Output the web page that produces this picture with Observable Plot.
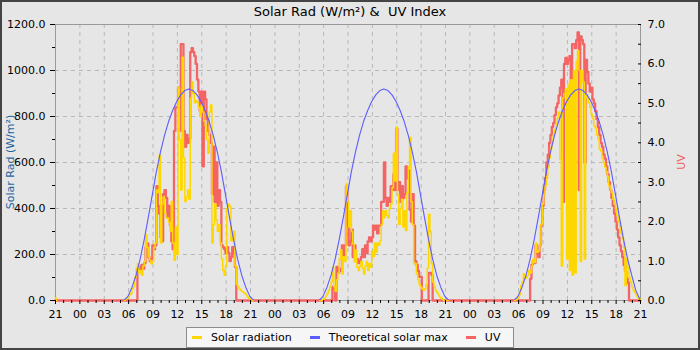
<!DOCTYPE html>
<html><head><meta charset="utf-8">
<script src="https://cdn.jsdelivr.net/npm/d3@7"></script>
<script src="https://cdn.jsdelivr.net/npm/@observablehq/plot@0.6"></script>
<style>
body{margin:0;background:#fff;}
#chart{position:relative;width:700px;height:350px;background:#e6e6e6;font-family:"DejaVu Sans",sans-serif;overflow:hidden;}
#chart svg{position:absolute;left:0;top:0;}
#border{position:absolute;left:0;top:0;width:700px;height:350px;box-sizing:border-box;border:2px solid #444;pointer-events:none;}
#title{position:absolute;left:0;width:700px;top:4px;text-align:center;font-size:13px;line-height:15px;color:#000;white-space:pre;}
.ylab{position:absolute;font-size:11px;line-height:13px;white-space:nowrap;transform:translate(-50%,-50%) rotate(-90deg);}
#legend{position:absolute;left:186px;top:327px;width:328px;height:21px;box-sizing:border-box;border:1px solid #8c8c8c;background:#f6f6f6;display:flex;align-items:center;padding-left:5px;font-size:11px;line-height:19px;color:#000;}
#legend .item{display:flex;align-items:center;margin-right:18px;white-space:nowrap;}
#legend .sw{display:inline-block;width:10px;height:2.5px;margin-right:9px;}
</style></head>
<body>
<div id="chart">
  <div id="title"></div>
  <div class="ylab" id="ylabL" style="left:10px;top:162px;color:#1e64a0"></div>
  <div class="ylab" id="ylabR" style="left:681px;top:162px;color:#f06060"></div>
  <div id="legend"></div>
  <div id="border"></div>
</div>
<script>
// ---- data ----
const titleText = "Solar Rad (W/m\u00b2) &  UV Index";
const leftAxisLabel = "Solar Rad (W/m\u00b2)";
const rightAxisLabel = "UV";
const seriesNames = ["Solar radiation", "Theoretical solar max", "UV"];
const hourLabels = ["21","00","03","06","09","12","15","18","21","00","03","06","09","12","15","18","21","00","03","06","09","12","15","18","21"];

// hours from chart start (21:00) to midnight of each day
const dayMidnights = [3, 27, 51];
// measured series: 10-minute values starting 05:30
const measStartHour = 5.5;
const measStepMin = 10;
// theoretical max: 30-minute values starting 05:25
const maxStartHour = 5 + 25 / 60;
const maxStepMin = 30;
// previous evening solar (21:00, 21:10)
const solarEve = [12, 0];

const solarDay1 = [
  0,5,10,
  15,25,30,50,60,100,
  140,160,120,130,110,150,
  170,285,230,190,175,160,
  170,230,250,480,470,630,
  250,420,450,380,360,360,
  340,300,430,250,175,320,
  200,926,700,480,1058,620,
  430,450,480,440,880,950,
  900,860,870,860,840,800,
  850,820,780,760,700,640,
  820,850,250,330,420,350,
  300,330,250,180,130,110,
  150,400,420,410,260,280,
  300,150,70,60,50,45,
  40,35,30,25,15,10,
  5,2,0];
const uvDay1 = [
  0,0,0,
  0,0,0,0,0,0,
  0,0.8,0.85,0.75,0.9,0.8,
  0.95,1.35,1.45,1.1,1.0,1.05,
  1.4,1.3,1.4,2.9,2.4,2.2,
  1.6,1.5,2.7,2.8,2.6,2.1,
  2.4,1.9,1.5,1.3,4.3,4.9,
  4.9,5.4,4.3,6.5,6.5,4.3,
  3.9,4.2,4.0,4.1,6.3,6.4,
  6.3,6.2,6.0,5.6,5.3,4.8,
  5.3,3.4,5.3,5.1,4.6,4.3,
  4.2,4.0,2.7,3.9,2.5,3.5,
  2.4,2.8,2.5,1.4,1.35,1.3,
  1.2,1.35,1.2,1.0,1.1,1.35,
  1.2,0.85,0,0,0,0,
  0,0,0,0,0,0,
  0,0,0];
const solarDay2 = [
  0,0,0,
  5,10,20,30,45,60,
  80,145,60,40,90,120,
  180,220,115,190,170,507,
  430,320,390,300,246,170,
  220,145,130,150,170,140,
  115,150,170,130,160,145,
  215,190,250,210,250,240,
  260,330,390,360,390,370,
  360,400,420,490,640,520,
  754,460,330,400,440,320,
  390,304,470,580,710,430,
  330,160,160,115,90,70,
  60,50,45,50,70,140,
  375,300,160,80,60,45,
  35,25,15,10,5,0,
  0,0,0];
const uvDay2 = [
  0,0,0,
  0,0,0,0,0,0,
  0,0.35,0.3,0,0.85,0.7,
  0.75,0.8,1.4,1.1,1.4,2.9,
  1.9,1.4,1.5,1.8,1.1,1.4,
  1.0,1.05,0.95,1.0,1.1,1.3,
  1.1,1.4,1.2,1.5,1.6,1.5,
  1.6,1.9,1.8,1.9,1.7,1.9,
  1.9,2.5,2.5,3.5,2.6,2.4,
  2.6,2.5,2.9,2.8,3.2,2.8,
  4.35,2.8,3.0,2.5,2.9,2.6,
  2.7,3.4,3.1,3.3,2.3,2.0,
  2.7,1.9,1.0,0.9,0.75,0.6,
  0.6,0,0,0,0,0,
  0.7,0.7,0.65,0,0,0,
  0,0,0,0,0,0,
  0,0,0];
const solarDay3 = [
  0,3,8,
  15,25,65,80,116,95,
  100,110,130,120,150,180,
  165,250,210,215,240,330,
  420,460,500,540,580,620,
  660,690,720,745,770,795,
  820,615,150,880,900,920,
  180,940,130,960,110,1000,
  120,1040,1087,1000,170,1000,
  950,180,900,880,860,840,
  810,790,760,750,720,700,
  660,650,620,600,580,560,
  540,500,480,470,440,420,
  400,370,340,320,290,270,
  230,65,180,140,100,80,
  60,45,35,25,15,8,
  3];
const uvDay3 = [
  0,0,0,
  0,0,0,0,0,0,
  0,0,0,0.55,0.9,1.0,
  0.95,1.4,1.2,1.1,1.4,1.9,
  2.4,2.8,3.1,3.5,3.7,4.0,
  4.2,4.4,4.5,4.7,4.9,5.0,
  5.2,5.4,5.6,2.5,6.0,6.15,
  6.0,6.1,6.2,2.9,6.5,6.5,
  6.4,6.6,6.8,2.8,6.7,6.6,
  6.5,3.5,6.1,5.8,5.5,5.3,
  5.4,5.1,5.0,4.8,4.6,4.4,
  4.2,4.0,3.9,3.7,3.6,3.4,
  3.2,3.0,2.8,2.6,2.4,2.2,
  2.0,1.8,1.6,1.4,1.25,1.1,
  0.9,0.75,0.55,0.45,0,0,
  0,0,0,0,0,0,
  0];
const maxDay1 = [0,18,58,110,180,265,360,460,560,645,718,778,826,865,894,913,920,913,894,865,826,778,718,645,560,460,360,265,180,110,58,18,0];
const maxDay2 = [0,18,58,110,180,265,360,460,560,645,718,778,826,865,894,913,920,913,894,865,826,778,718,645,560,460,360,265,180,110,58,18,0];
const maxDay3 = [0,18,58,110,180,265,360,460,560,645,718,778,826,865,894,913,920,913,894,865,826,778,718,645,560,460,360,265,180,110,45,5,0];

// ---- styles ----
const solarColor = "#ffd700";
const maxColor = "#5c5cff";
const uvColor = "#f46464";
const seriesColors = [solarColor, maxColor, uvColor];

// ---- build tables ----
const UV_TO_Y = 1200 / 7;
const solarDays = [solarDay1, solarDay2, solarDay3];
const uvDays = [uvDay1, uvDay2, uvDay3];
const maxDays = [maxDay1, maxDay2, maxDay3];

const solarPts = [];
solarEve.forEach((v, i) => solarPts.push({day: 0, h: i * measStepMin / 60, v}));
solarDays.forEach((arr, d) => arr.forEach((v, i) =>
  solarPts.push({day: d + 1, h: dayMidnights[d] + measStartHour + i * measStepMin / 60, v})));

const uvPts = [{h: 0, v: 0}];
uvDays.forEach((arr, d) => arr.forEach((v, i) =>
  uvPts.push({h: dayMidnights[d] + measStartHour + i * measStepMin / 60, v: v * UV_TO_Y})));

const maxPts = [];
maxDays.forEach((arr, d) => arr.forEach((v, i) =>
  maxPts.push({day: d + 1, h: dayMidnights[d] + maxStartHour + i * maxStepMin / 60, v})));

const gridStyle = {stroke: "#b8b8b8", strokeOpacity: 1, strokeDasharray: "4,4"};

const plot = Plot.plot({
  width: 700, height: 325,
  marginTop: 24, marginBottom: 25, marginLeft: 55, marginRight: 60,
  style: {background: "transparent", fontFamily: "DejaVu Sans", fontSize: "11px", color: "#000", overflow: "visible"},
  x: {domain: [0, 72], label: null},
  y: {domain: [0, 1200], label: null},
  marks: [
    Plot.gridY(d3.range(200, 1200, 200), gridStyle),
    Plot.gridX(d3.range(3, 72, 3), gridStyle),
    Plot.frame({stroke: "#999"}),
    Plot.line(uvPts, {x: "h", y: "v", stroke: uvColor, strokeWidth: 2.3, curve: "step"}),
    Plot.line(solarPts, {x: "h", y: "v", z: "day", stroke: solarColor, strokeWidth: 1.5, curve: "step"}),
    Plot.line(maxPts, {x: "h", y: "v", z: "day", stroke: maxColor, strokeWidth: 1.1, clip: true}),
    Plot.axisX(d3.range(0, 73, 3), {tickSize: 4, tickPadding: 6, tickFormat: d => hourLabels[d / 3], label: null}),
    Plot.axisX(d3.range(0, 73, 1).filter(d => d % 3), {tickSize: 3, tickFormat: () => "", label: null}),
    Plot.axisY(d3.range(0, 1201, 200), {tickSize: 5, tickPadding: 5, tickFormat: d => d.toFixed(1), label: null}),
    Plot.axisY(d3.range(100, 1200, 200), {tickSize: 3, tickFormat: () => "", label: null}),
    Plot.axisY(d3.range(0, 7.01, 1).map(u => u * UV_TO_Y), {anchor: "right", tickSize: 0, tickPadding: 7, tickFormat: d => (d / UV_TO_Y).toFixed(1), label: null}),
    Plot.axisY(d3.range(0, 7.01, 0.5).map(u => u * UV_TO_Y), {anchor: "right", tickSize: -3, tickFormat: () => "", label: null})
  ]
});

const chart = document.getElementById("chart");
chart.insertBefore(plot, chart.firstChild);
document.getElementById("title").textContent = titleText;
document.getElementById("ylabL").textContent = leftAxisLabel;
document.getElementById("ylabR").textContent = rightAxisLabel;
const legend = document.getElementById("legend");
seriesNames.forEach((name, i) => {
  const item = document.createElement("span");
  item.className = "item";
  const sw = document.createElement("span");
  sw.className = "sw";
  sw.style.background = seriesColors[i];
  item.appendChild(sw);
  item.appendChild(document.createTextNode(name));
  legend.appendChild(item);
});
</script>
</body></html>
